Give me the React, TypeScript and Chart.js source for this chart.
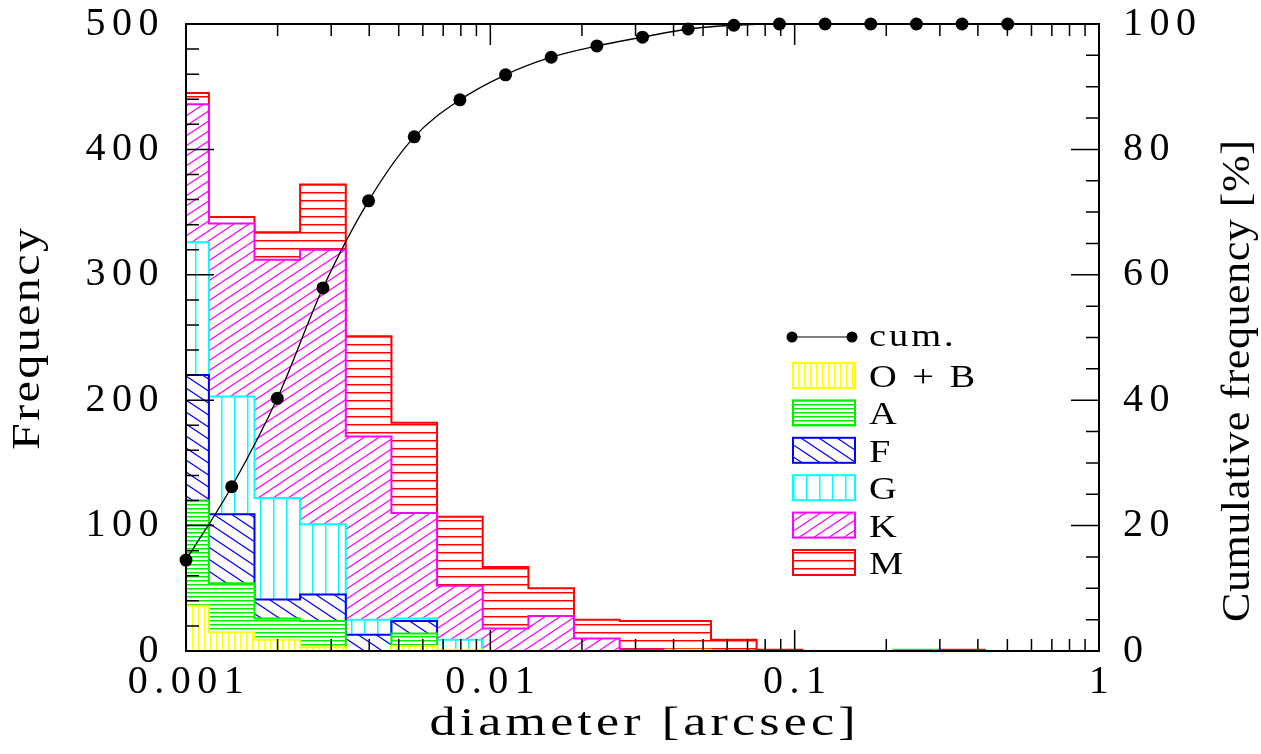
import React, { useEffect, useRef } from 'react';
import { Chart, registerables } from 'chart.js';

Chart.register(...registerables);

// ---------- data ----------
const binCenters = [0.001, 0.001413, 0.001995, 0.002818, 0.003981, 0.005623, 0.007943, 0.01122, 0.01585, 0.02239, 0.03162, 0.04467, 0.0631, 0.08913, 0.1259, 0.1778, 0.2512, 0.3548, 0.5012];
const binEdges = [0.0008414, 0.001189, 0.001679, 0.002371, 0.00335, 0.004732, 0.006683, 0.00944, 0.01334, 0.01884, 0.02661, 0.03758, 0.05309, 0.07499, 0.1059, 0.1496, 0.2113, 0.2985, 0.4217, 0.5957];

const countsOB = [36, 15, 9, 3, 0, 4, 1, 0, 0, 0, 0, 1, 0, 0, 0, 0, 0, 0, 0];
const countsA = [120, 54, 26, 24, 0, 14, 0, 0, 0, 0, 0, 0, 0, 0, 0, 0, 1, 0, 0];
const countsF = [220, 109, 41, 45, 13, 24, 0, 0, 0, 0, 0, 0, 0, 0, 0, 0, 0, 0, 0];
const countsG = [326, 203, 122, 101, 25, 26, 9, 0, 0, 0, 0, 0, 0, 0, 0, 0, 0, 0, 0];
const countsK = [436, 341, 312, 320, 171, 110, 52, 18, 28, 10, 1, 0, 0, 0, 0, 0, 0, 0, 0];
const countsM = [445, 346, 334, 372, 251, 182, 107, 67, 50, 25, 24, 24, 9, 1, 0, 0, 0, 1, 0];

const cumulativePct = [14.5, 26.2, 40.3, 57.9, 71.8, 82.0, 87.9, 91.9, 94.7, 96.5, 97.9, 99.2, 99.8, 100, 100, 100, 100, 100, 100];

const seriesLabels = ['O + B', 'A', 'F', 'G', 'K', 'M'];
const cumLabel = 'cum.';

const xMajorTicks = [0.001, 0.01, 0.1, 1];
const xMinorTicks = [0.002, 0.003, 0.004, 0.005, 0.006, 0.007, 0.008, 0.009, 0.02, 0.03, 0.04, 0.05, 0.06, 0.07, 0.08, 0.09, 0.2, 0.3, 0.4, 0.5, 0.6, 0.7, 0.8, 0.9];
const yLeftMajor = [0, 100, 200, 300, 400, 500];
const yLeftMinor = [20, 40, 60, 80, 120, 140, 160, 180, 220, 240, 260, 280, 320, 340, 360, 380, 420, 440, 460, 480];
const yRightMajor = [0, 20, 40, 60, 80, 100];
const yRightMinor = [5, 10, 15, 25, 30, 35, 45, 50, 55, 65, 70, 75, 85, 90, 95];

const xTitle = 'diameter [arcsec]';
const yTitle = 'Frequency';
const y2Title = 'Cumulative frequency [%]';

// ---------- styles ----------
const seriesColors = ['#ffff00', '#00ee00', '#0000ff', '#00ffff', '#ff00ff', '#ff0000'];
const hatchKinds = [
  { kind: 'v', w: 6, h: 6 },
  { kind: 'h', w: 4, h: 4 },
  { kind: 'd', w: 18, h: 12 },
  { kind: 'v', w: 13, h: 13 },
  { kind: 'u', w: 15, h: 10 },
  { kind: 'h', w: 8, h: 8 },
];
const FONT = '"Liberation Serif", "Times New Roman", serif';

function makePattern(ctx: CanvasRenderingContext2D, color: string, spec: { kind: string; w: number; h: number }) {
  const c = document.createElement('canvas');
  c.width = spec.w;
  c.height = spec.h;
  const g = c.getContext('2d')!;
  g.fillStyle = '#ffffff';
  g.fillRect(0, 0, spec.w, spec.h);
  g.fillStyle = color;
  g.strokeStyle = color;
  g.lineWidth = 1.2;
  const { w, h } = spec;
  if (spec.kind === 'v') {
    g.fillRect(0, 0, 1.5, h);
  } else if (spec.kind === 'h') {
    g.fillRect(0, 0, w, 1.5);
  } else if (spec.kind === 'd') {
    for (let n = -2; n <= 2; n++) {
      g.beginPath();
      g.moveTo(n * w - w, -h);
      g.lineTo(n * w + 2 * w, 2 * h);
      g.stroke();
    }
  } else {
    for (let n = -2; n <= 2; n++) {
      g.beginPath();
      g.moveTo(n * w - w, 2 * h);
      g.lineTo(n * w + 2 * w, -h);
      g.stroke();
    }
  }
  return ctx.createPattern(c, 'repeat')!;
}

function stepPoints(counts: number[]) {
  let last = counts.length - 1;
  while (last > 0 && counts[last] === 0) last--;
  const pts = [{ x: binEdges[0], y: 0 }];
  for (let i = 0; i <= last; i++) pts.push({ x: binEdges[i], y: counts[i] });
  pts.push({ x: binEdges[last + 1], y: 0 });
  return pts;
}

function drawText(ctx: CanvasRenderingContext2D, text: string, x: number, y: number, rot: number, size: number, spacing: number, sx: number, align: CanvasTextAlign) {
  ctx.save();
  ctx.translate(x, y);
  ctx.rotate(rot);
  ctx.scale(sx, 1);
  ctx.font = `${size}px ${FONT}`;
  (ctx as any).letterSpacing = `${spacing}px`;
  ctx.fillStyle = '#000';
  ctx.textAlign = align;
  ctx.textBaseline = 'alphabetic';
  ctx.fillText(text, align === 'center' ? spacing / 2 : 0, 0);
  ctx.restore();
}

const decorPlugin = {
  id: 'decor',
  beforeDraw(chart: any) {
    chart.ctx.letterSpacing = '6.5px';
  },
  afterDatasetsDraw(chart: any) {
    const { ctx, chartArea: a, scales } = chart;
    ctx.save();
    ctx.strokeStyle = '#000';
    ctx.lineWidth = 1.5;
    ctx.beginPath();
    const xt = (vals: number[], len: number) => {
      for (const v of vals) {
        const px = scales.x.getPixelForValue(v);
        ctx.moveTo(px, a.bottom);
        ctx.lineTo(px, a.bottom - len);
        ctx.moveTo(px, a.top);
        ctx.lineTo(px, a.top + len);
      }
    };
    xt(xMajorTicks, 21);
    xt(xMinorTicks, 12);
    const yt = (vals: number[], len: number) => {
      for (const v of vals) {
        const py = scales.y.getPixelForValue(v);
        ctx.moveTo(a.left, py);
        ctx.lineTo(a.left + len, py);
      }
    };
    yt(yLeftMajor, 28);
    yt(yLeftMinor, 13);
    const y2t = (vals: number[], len: number) => {
      for (const v of vals) {
        const py = scales.y2.getPixelForValue(v);
        ctx.moveTo(a.right, py);
        ctx.lineTo(a.right - len, py);
      }
    };
    y2t(yRightMajor, 28);
    y2t(yRightMinor, 13);
    ctx.stroke();
    ctx.lineWidth = 2;
    ctx.strokeRect(a.left, a.top, a.right - a.left, a.bottom - a.top);
    ctx.restore();
  },
  afterDraw(chart: any) {
    const ctx: CanvasRenderingContext2D = chart.ctx;
    const a = chart.chartArea;
    // axis titles
    drawText(ctx, yTitle, 39, 339, -Math.PI / 2, 40, 2, 1.2, 'center');
    drawText(ctx, xTitle, (a.left + a.right) / 2, 735, 0, 40, 3.2, 1.3, 'center');
    drawText(ctx, y2Title, 1249, 381, -Math.PI / 2, 40, 0.5, 1.1, 'center');

    // legend
    const ds = chart.data.datasets;
    const boxX = 793, boxW = 62, boxH = 25, textX = 869;
    ctx.save();
    ctx.strokeStyle = '#000';
    ctx.lineWidth = 1.2;
    ctx.beginPath();
    ctx.moveTo(792, 337);
    ctx.lineTo(852, 337);
    ctx.stroke();
    ctx.fillStyle = '#000';
    for (const cx of [792, 852]) {
      ctx.beginPath();
      ctx.arc(cx, 337, 5.5, 0, Math.PI * 2);
      ctx.fill();
    }
    ctx.restore();
    drawText(ctx, ds[0].label, textX, 346, 0, 32, 2.5, 1.2, 'left');
    for (let i = 1; i < ds.length; i++) {
      const top = 363 + (i - 1) * 37.4;
      ctx.save();
      ctx.fillStyle = ds[i].backgroundColor;
      ctx.fillRect(boxX, top, boxW, boxH);
      ctx.strokeStyle = ds[i].borderColor;
      ctx.lineWidth = 2;
      ctx.strokeRect(boxX, top, boxW, boxH);
      ctx.restore();
      drawText(ctx, ds[i].label, textX, top + boxH - 1, 0, 32, 2.5, 1.2, 'left');
    }
    (ctx as any).letterSpacing = '0px';
  },
};

export default function App() {
  const ref = useRef<HTMLCanvasElement>(null);
  useEffect(() => {
    const canvas = ref.current!;
    const ctx = canvas.getContext('2d')!;
    const allCounts = [countsOB, countsA, countsF, countsG, countsK, countsM];
    const histDatasets = allCounts.map((counts, i) => ({
      type: 'line' as const,
      label: seriesLabels[i],
      data: stepPoints(counts),
      yAxisID: 'y',
      stepped: true,
      fill: 'origin',
      backgroundColor: makePattern(ctx, seriesColors[i], hatchKinds[i]),
      borderColor: seriesColors[i],
      borderWidth: 2,
      pointRadius: 0,
    }));
    const tickFont = { family: FONT, size: 40, lineHeight: 1 };
    const chart = new Chart(canvas, {
      type: 'line',
      data: {
        datasets: [
          {
            type: 'line',
            label: cumLabel,
            data: binCenters.map((x, i) => ({ x, y: cumulativePct[i] })),
            yAxisID: 'y2',
            borderColor: '#000',
            borderWidth: 1.3,
            pointRadius: 6.5,
            pointBackgroundColor: '#000',
            pointBorderWidth: 0,
            cubicInterpolationMode: 'monotone',
            fill: false,
            clip: false,
          } as any,
          ...(histDatasets as any[]),
        ],
      },
      options: {
        responsive: false,
        animation: false,
        events: [],
        layout: { padding: { top: 24, left: 0, right: 0, bottom: 0 } },
        plugins: {
          legend: { display: false },
          tooltip: { enabled: false },
          filler: { propagate: false },
        },
        scales: {
          x: {
            type: 'logarithmic',
            position: 'bottom',
            min: 0.001,
            max: 1,
            grid: { display: false, drawTicks: false },
            border: { display: false },
            afterBuildTicks: (s: any) => {
              s.ticks = xMajorTicks.map((v) => ({ value: v }));
            },
            afterFit: (s: any) => {
              s.height = 103;
              s.paddingLeft = 0;
              s.paddingRight = 0;
            },
            ticks: {
              font: tickFont,
              color: '#000',
              padding: 11,
              labelOffset: 3,
              autoSkip: false,
              maxRotation: 0,
              callback: (v: any) => String(Number(v)),
            },
          },
          y: {
            type: 'linear',
            position: 'left',
            min: 0,
            max: 500,
            grid: { display: false, drawTicks: false },
            border: { display: false },
            afterFit: (s: any) => {
              s.width = 186;
              s.paddingTop = 0;
              s.paddingBottom = 0;
            },
            ticks: { stepSize: 100, font: tickFont, color: '#000', padding: 21 },
          },
          y2: {
            type: 'linear',
            position: 'right',
            min: 0,
            max: 100,
            grid: { display: false, drawTicks: false },
            border: { display: false },
            afterFit: (s: any) => {
              s.width = 162;
              s.paddingTop = 0;
              s.paddingBottom = 0;
            },
            ticks: { stepSize: 20, font: tickFont, color: '#000', padding: 24 },
          },
        },
      } as any,
      plugins: [decorPlugin],
    });
    return () => chart.destroy();
  }, []);
  return (
    <canvas
      ref={ref}
      width={1261}
      height={754}
      style={{ position: 'absolute', left: 0, top: 0, display: 'block', background: '#fff' }}
    />
  );
}
